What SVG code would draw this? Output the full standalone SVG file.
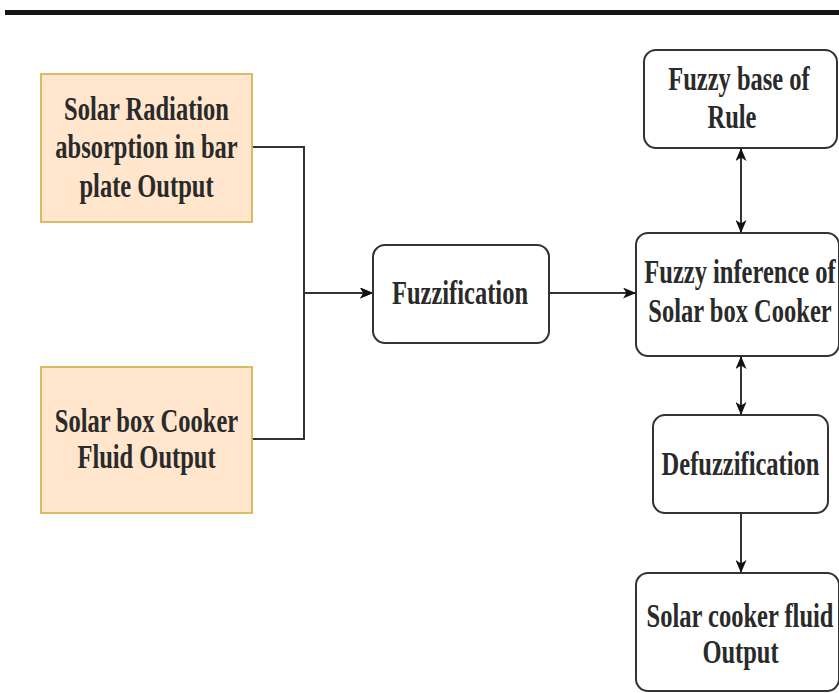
<svg xmlns="http://www.w3.org/2000/svg" width="839" height="693" viewBox="0 0 839 693">
<defs>
<style>
.in{fill:#FFE6CC;stroke:#D6B656;stroke-width:1.8}
.nd{fill:#FFFFFF;stroke:#333333;stroke-width:2}
.t{font-family:"Liberation Serif","Times New Roman",serif;font-weight:bold;font-size:24.5px;fill:#2a2a2a;text-anchor:middle}
.c{fill:none;stroke:#333333;stroke-width:2}
</style>
<marker id="ah" viewBox="0 0 13 11" refX="12" refY="5.5" markerWidth="13" markerHeight="11" markerUnits="userSpaceOnUse" orient="auto-start-reverse">
<path d="M0,0 L13,5.5 L0,11 L3.5,5.5 Z" fill="#111111"/>
</marker>
</defs>
<rect x="0" y="0" width="839" height="693" fill="#FFFFFF"/>
<line x1="5" y1="12.5" x2="839" y2="12.5" stroke="#151515" stroke-width="5"/>

<g id="connectors">
<path class="c" d="M252,147 H304 V293 H372" marker-end="url(#ah)"/>
<path class="c" d="M252,439 H304 V293 H372" marker-end="url(#ah)"/>
<path class="c" d="M549,293 H635" marker-end="url(#ah)"/>
<path class="c" d="M741,149 V232" marker-start="url(#ah)" marker-end="url(#ah)"/>
<path class="c" d="M741,357 V414" marker-start="url(#ah)" marker-end="url(#ah)"/>
<path class="c" d="M741,513 V572" marker-end="url(#ah)"/>
</g>

<g id="input-radiation">
<rect class="in" x="41" y="74" width="211" height="148"/>
<text class="t" transform="translate(146.5,120) scale(1,1.38)">Solar Radiation</text>
<text class="t" transform="translate(146.5,158) scale(1,1.38)">absorption in bar</text>
<text class="t" transform="translate(146.5,197) scale(1,1.38)">plate Output</text>
</g>

<g id="input-fluid">
<rect class="in" x="41" y="367" width="211" height="146"/>
<text class="t" transform="translate(146.5,432) scale(1,1.38)">Solar box Cooker</text>
<text class="t" transform="translate(146.5,468) scale(1,1.38)">Fluid Output</text>
</g>

<g id="fuzzification">
<rect class="nd" x="373" y="245" width="176" height="98" rx="12"/>
<text class="t" transform="translate(460,304) scale(1,1.38)">Fuzzification</text>
</g>

<g id="rule-base">
<rect class="nd" x="644" y="50" width="193" height="98" rx="12"/>
<text class="t" transform="translate(739,90) scale(1,1.38)">Fuzzy base of</text>
<text class="t" transform="translate(732,128) scale(1,1.38)">Rule</text>
</g>

<g id="inference">
<rect class="nd" x="636" y="233" width="203" height="123" rx="12"/>
<text class="t" transform="translate(740,283) scale(1,1.38)">Fuzzy inference of</text>
<text class="t" transform="translate(740,322) scale(1,1.38)">Solar box Cooker</text>
</g>

<g id="defuzzification">
<rect class="nd" x="653" y="415" width="175" height="98" rx="12"/>
<text class="t" transform="translate(740.5,475) scale(1,1.38)">Defuzzification</text>
</g>

<g id="output">
<rect class="nd" x="636" y="573" width="203" height="118" rx="12"/>
<text class="t" transform="translate(740,627) scale(1,1.38)">Solar cooker fluid</text>
<text class="t" transform="translate(740.5,663) scale(1,1.38)">Output</text>
</g>
</svg>
